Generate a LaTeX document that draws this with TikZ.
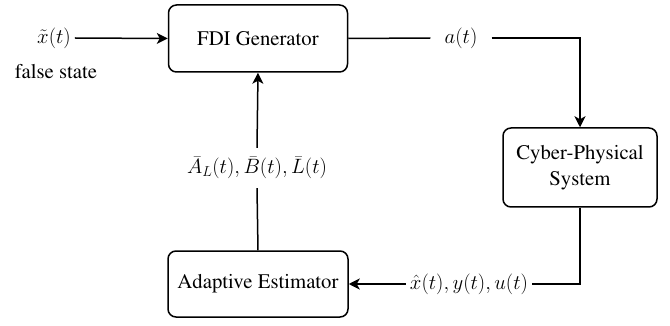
\documentclass[tikz,border=0pt]{standalone}
\usepackage[T1]{fontenc}
\usepackage{times}
\usetikzlibrary{arrows.meta}
\begin{document}
\begin{tikzpicture}[x=1pt,y=-1pt,
  font=\rmfamily\fontsize{20.74}{26}\selectfont,
  blk/.style={draw,line width=1.5pt,rounded corners=8pt,align=center,inner sep=0pt},
  lbl/.style={inner sep=4pt},
  conn/.style={line width=1.5pt},
  arr/.style={conn,-{Stealth[length=11pt,width=11pt,inset=3pt]}}]
\useasboundingbox (0,0) rectangle (670,326);
\node[blk,minimum width=179pt,minimum height=67pt] (fdi) at (258,38.5) {FDI Generator};
\node[blk,minimum width=180pt,minimum height=66pt] (est) at (258,284) {Adaptive Estimator};
\node[blk,minimum width=154pt,minimum height=79pt] (cps) at (580,167.5) {Cyber-Physical\\System};
\node[lbl] (xt) at (54,38) {$\tilde{x}(t)$};
\node[lbl] (fs) at (56,72) {false state};
\node[lbl,inner sep=14pt] (at) at (461,38) {$a(t)$};
\node[lbl] (hat) at (469,284) {$\hat{x}(t), y(t), u(t)$};
\node[lbl,inner sep=9pt] (abl) at (257,168) {$\bar{A}_L(t), \bar{B}(t), \bar{L}(t)$};
\draw[arr] (xt.east) -- (fdi.west);
\draw[conn] (fdi.east) -- (at.west);
\draw[arr] (at.east) -| (cps.north);
\draw[conn] (cps.south) |- (hat.east);
\draw[arr] (hat.west) -- (est.east);
\draw[conn] (est.north) -- (abl.south);
\draw[arr] (abl.north) -- (fdi.south);
\end{tikzpicture}
\end{document}
